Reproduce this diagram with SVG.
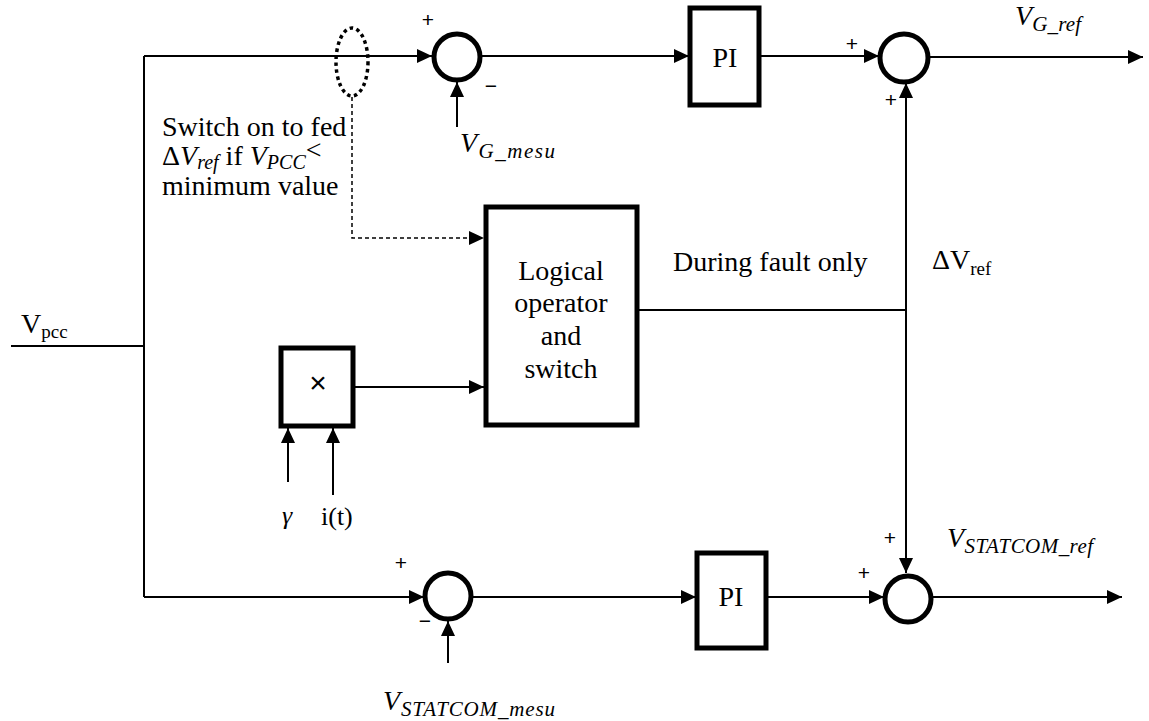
<svg xmlns="http://www.w3.org/2000/svg" width="1149" height="721" viewBox="0 0 1149 721">
<style>
.ln{fill:none;stroke:#000;stroke-width:2}
.ds{fill:none;stroke:#000;stroke-width:1.5;stroke-dasharray:4 3}
.blk{fill:#fff;stroke:#000;stroke-width:5}
.sum{fill:#fff;stroke:#000;stroke-width:5}
.t{font-family:"Liberation Serif","Times New Roman",serif;font-size:28px;fill:#000}
.m{font-family:"Liberation Serif","Times New Roman",serif;font-style:italic;fill:#000}
.sg{font-family:"Liberation Sans",Arial,sans-serif;font-size:21px;fill:#000}
</style>
<defs>
<marker id="ah" markerUnits="userSpaceOnUse" markerWidth="16" markerHeight="14" refX="15" refY="7" orient="auto-start-reverse">
<path d="M0,0 L15,7 L0,14 Z" fill="#000"/>
</marker>
</defs>
<rect width="1149" height="721" fill="#fff"/>
<g id="connectors">
<path class="ln" d="M11 346 H144"/>
<path class="ln" d="M144 56 V597"/>
<path class="ln" d="M144 56 H432" marker-end="url(#ah)"/>
<path class="ln" d="M482 56 H689" marker-end="url(#ah)"/>
<path class="ln" d="M759 56 H879" marker-end="url(#ah)"/>
<path class="ln" d="M929 57 H1143" marker-end="url(#ah)"/>
<path class="ln" d="M457 127 V82" marker-end="url(#ah)"/>
<path class="ln" d="M144 597 H424" marker-end="url(#ah)"/>
<path class="ln" d="M472 597 H696" marker-end="url(#ah)"/>
<path class="ln" d="M766 597 H884" marker-end="url(#ah)"/>
<path class="ln" d="M932 597 H1122" marker-end="url(#ah)"/>
<path class="ln" d="M448 663 V621" marker-end="url(#ah)"/>
<path class="ln" d="M906 83 V573" marker-start="url(#ah)" marker-end="url(#ah)"/>
<path class="ln" d="M637 310 H906"/>
<path class="ds" d="M352 97 V238 H484" marker-end="url(#ah)"/>
<path class="ln" d="M353 387 H484" marker-end="url(#ah)"/>
<path class="ln" d="M288 482 V428" marker-end="url(#ah)"/>
<path class="ln" d="M333 495 V428" marker-end="url(#ah)"/>
</g>
<g id="switch-ellipse">
<ellipse cx="352" cy="62" rx="16" ry="34" fill="none" stroke="#000" stroke-width="3.5" stroke-dasharray="3.5 3.5"/>
</g>
<g id="sum1">
<circle class="sum" cx="457" cy="57" r="23"/>
<text class="sg" x="428" y="27" text-anchor="middle">+</text>
<text class="sg" x="491" y="93" text-anchor="middle">−</text>
</g>
<g id="pi1">
<rect class="blk" x="690" y="8" width="69" height="97"/>
<text class="t" x="725" y="67" text-anchor="middle">PI</text>
</g>
<g id="sum2">
<circle class="sum" cx="904" cy="58" r="24"/>
<text class="sg" x="852" y="51" text-anchor="middle">+</text>
<text class="sg" x="891" y="107" text-anchor="middle">+</text>
</g>
<g id="sum3">
<circle class="sum" cx="448" cy="596" r="23"/>
<text class="sg" x="401" y="570" text-anchor="middle">+</text>
<text class="sg" x="425" y="628" text-anchor="middle">−</text>
</g>
<g id="pi2">
<rect class="blk" x="697" y="553" width="69" height="95"/>
<text class="t" x="731" y="606" text-anchor="middle">PI</text>
</g>
<g id="sum4">
<circle class="sum" cx="908" cy="599" r="23"/>
<text class="sg" x="864" y="580" text-anchor="middle">+</text>
<text class="sg" x="890" y="545" text-anchor="middle">+</text>
</g>
<g id="logic">
<rect class="blk" x="486" y="207" width="151" height="218"/>
<text class="t" x="561" y="280" text-anchor="middle">Logical</text>
<text class="t" x="561" y="312" text-anchor="middle">operator</text>
<text class="t" x="561" y="345" text-anchor="middle">and</text>
<text class="t" x="561" y="378" text-anchor="middle">switch</text>
</g>
<g id="mult">
<rect class="blk" x="281" y="348" width="72" height="78"/>
<text x="318" y="393" text-anchor="middle" style="font-family:'Liberation Sans',Arial,sans-serif;font-size:30px;fill:#000">×</text>
</g>
<g id="labels">
<text class="t" x="21" y="333">V<tspan font-size="19" dy="5">pcc</tspan></text>
<text class="t" x="162" y="136">Switch on to fed</text>
<text class="t" x="162" y="165">Δ<tspan class="m">V</tspan><tspan class="m" font-size="20" dy="4">ref</tspan><tspan dy="-4"> if </tspan><tspan class="m">V</tspan><tspan class="m" font-size="20" dy="4">PCC</tspan><tspan dy="-10">&lt;</tspan></text>
<text class="t" x="162" y="195">minimum value</text>
<text class="t" x="673" y="271">During fault only</text>
<text class="t" x="932" y="269">ΔV<tspan font-size="19" dy="6">ref</tspan></text>
<text class="m" x="460" y="152" font-size="28" textLength="95">V<tspan font-size="21" dy="6">G_mesu</tspan></text>
<text class="m" x="1015" y="25" font-size="28" textLength="66">V<tspan font-size="21" dy="6">G_ref</tspan></text>
<text class="m" x="947" y="547" font-size="28" textLength="146">V<tspan font-size="21" dy="6">STATCOM_ref</tspan></text>
<text class="m" x="383" y="710" font-size="28" textLength="172">V<tspan font-size="21" dy="6">STATCOM_mesu</tspan></text>
<text class="m" x="282" y="524" font-size="26">γ</text>
<text class="t" x="321" y="525" style="font-size:26px">i(t)</text>
</g>
</svg>
